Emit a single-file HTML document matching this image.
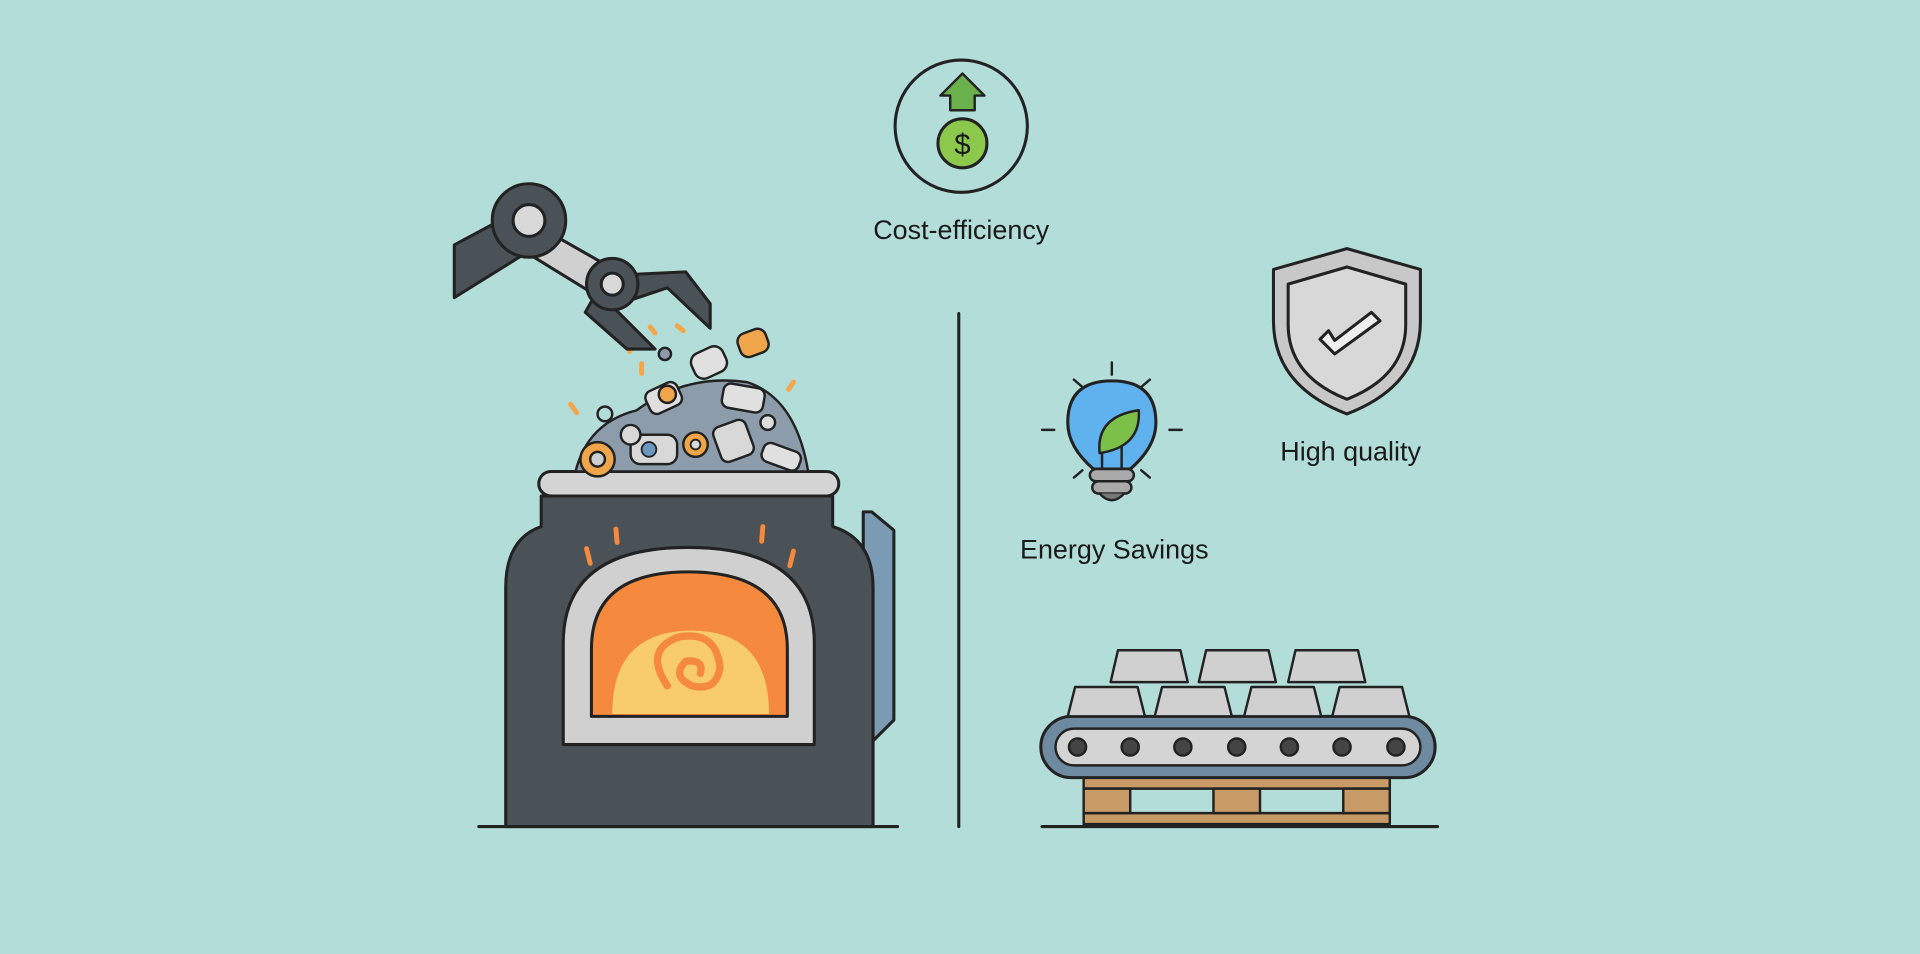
<!DOCTYPE html>
<html><head><meta charset="utf-8"><style>
html,body{margin:0;padding:0;background:#b3ddd8;}
svg{display:block}
text{font-family:"Liberation Sans",sans-serif;fill:#1a1a1a;}
</style></head><body>
<svg width="1920" height="954" viewBox="0 0 1568 779" xmlns="http://www.w3.org/2000/svg">
<rect width="1568" height="779" fill="#b3ddd8"/>
<g stroke="#222" stroke-linecap="round" stroke-linejoin="round">
<!-- cost efficiency -->
<circle cx="785" cy="103" r="54" fill="none" stroke-width="2.5"/>
<path d="M776 90 V78 H768 L786 60 L804 78 H796 V90 Z" fill="#6ab04c" stroke-width="2"/>
<circle cx="786" cy="117" r="20" fill="#8cc84b" stroke-width="2.5"/>
<text x="786" y="126" font-size="24" text-anchor="middle" stroke="none">$</text>
<!-- vertical divider -->
<line x1="783" y1="256" x2="783" y2="675" stroke-width="2.5"/>
<line x1="391" y1="675" x2="733" y2="675" stroke-width="2.5"/>
<line x1="851" y1="675" x2="1174" y2="675" stroke-width="2.5"/>
<!-- handle -->
<path d="M705 418 H712 L730 433 V588 L712 606 H705 Z" fill="#7b9bb4" stroke-width="2.5"/>
<!-- furnace body -->
<path d="M442 405 H680 V430 Q713 440 713 480 V675 H413 V480 Q413 440 442 430 Z" fill="#4a5157" stroke-width="2.5"/>
<rect x="440" y="385" width="245" height="20" rx="10" fill="#d4d4d4" stroke-width="2.5"/>
<path d="M460 608 V525 Q460 447 562 447 Q665 447 665 525 V608 Z" fill="#d0d0d0" stroke-width="2.5"/>
<path d="M483 585 V530 Q483 467 562 467 Q643 467 643 530 V585 Z" fill="#f58a3f" stroke-width="2.5"/>
<path d="M500 583 Q500 515 565 515 Q628 515 628 583 Z" fill="#f8cc6a" stroke="none"/>
<path d="M545 560 Q525 530 555 520 Q585 515 588 545 Q585 565 565 560 Q548 552 560 540 Q575 538 572 550" fill="none" stroke="#f58a3f" stroke-width="6"/>
<g stroke="#f58a3f" stroke-width="4"><line x1="503" y1="432" x2="504" y2="443"/><line x1="479" y1="448" x2="482" y2="460"/><line x1="623" y1="430" x2="622" y2="442"/><line x1="648" y1="450" x2="645" y2="462"/></g>
<!-- scrap pile -->
<path d="M470 385 Q480 345 520 335 Q560 305 610 312 Q650 325 660 385 Z" fill="#8d9cab" stroke-width="2"/>
<circle cx="488" cy="375" r="14" fill="#f0a54a" stroke-width="2"/><circle cx="488" cy="375" r="6" fill="#d0d0d0" stroke-width="2"/>
<rect x="515" y="355" width="38" height="24" rx="8" fill="#d8d8d8" stroke-width="2"/><circle cx="530" cy="367" r="6" fill="#6a98c0" stroke-width="1.5"/>
<circle cx="568" cy="363" r="10" fill="#f0a54a" stroke-width="2"/><circle cx="568" cy="363" r="4" fill="#d8d8d8" stroke-width="1.5"/>
<rect x="585" y="345" width="28" height="30" rx="6" fill="#d8d8d8" stroke-width="2" transform="rotate(-20 599 360)"/>
<rect x="590" y="315" width="34" height="20" rx="6" fill="#e0e0e0" stroke-width="2" transform="rotate(10 607 325)"/>
<rect x="528" y="315" width="28" height="20" rx="6" fill="#e0e0e0" stroke-width="2" transform="rotate(-25 542 325)"/>
<circle cx="545" cy="322" r="7" fill="#f0a54a" stroke-width="2"/>
<circle cx="515" cy="355" r="8" fill="#d8d8d8" stroke-width="2"/>
<rect x="622" y="365" width="32" height="16" rx="6" fill="#e0e0e0" stroke-width="2" transform="rotate(20 638 373)"/>
<circle cx="627" cy="345" r="6" fill="#ddd" stroke-width="2"/>
<circle cx="494" cy="338" r="6" fill="none" stroke-width="2"/>
<circle cx="543" cy="289" r="5" fill="#8d9cab" stroke-width="2"/>
<rect x="565" y="285" width="28" height="22" rx="8" fill="#e0e0e0" stroke-width="2" transform="rotate(-25 579 296)"/>
<rect x="603" y="270" width="24" height="20" rx="7" fill="#f0a54a" stroke-width="2" transform="rotate(-20 615 280)"/>
<g stroke="#f5a64a" stroke-width="4"><line x1="531" y1="267" x2="535" y2="272"/><line x1="553" y1="266" x2="558" y2="270"/><line x1="518" y1="282" x2="514" y2="287"/><line x1="524" y1="297" x2="524" y2="305"/><line x1="466" y1="330" x2="471" y2="337"/><line x1="648" y1="312" x2="644" y2="318"/></g>
<!-- robot arm -->
<path d="M371 200 L412 178 L440 200 L371 243 Z" fill="#4a5157" stroke-width="2.5"/>
<path d="M440 185 L505 222 L493 245 L428 205 Z" fill="#d0d0d0" stroke-width="2.5"/>
<path d="M495 225 L560 222 L580 248 V268 L545 235 L500 250 L535 285 L512 285 L478 255 Z" fill="#4a5157" stroke-width="2.5"/>
<circle cx="432" cy="180" r="30" fill="#4a5157" stroke-width="2.5"/><circle cx="432" cy="180" r="13" fill="#d8d8d8" stroke-width="2.5"/>
<circle cx="500" cy="232" r="21" fill="#4a5157" stroke-width="2.5"/><circle cx="500" cy="232" r="9" fill="#d8d8d8" stroke-width="2.5"/>
<!-- bulb -->
<g stroke-width="2"><line x1="908" y1="296" x2="908" y2="306"/><line x1="877" y1="310" x2="884" y2="316"/><line x1="939" y1="310" x2="932" y2="316"/><line x1="851" y1="351" x2="861" y2="351"/><line x1="955" y1="351" x2="965" y2="351"/><line x1="877" y1="390" x2="884" y2="384"/><line x1="939" y1="390" x2="932" y2="384"/></g>
<path d="M893 383 Q872 365 872 345 Q872 311 908 311 Q944 311 944 345 Q944 365 923 383 Z" fill="#5fb2ee" stroke-width="2.5"/>
<path d="M898 370 Q895 340 930 335 Q932 365 898 370" fill="#7cc04a" stroke-width="2"/>
<line x1="900" y1="370" x2="900" y2="383" stroke-width="2"/><line x1="916" y1="365" x2="916" y2="383" stroke-width="2"/>
<rect x="890" y="383" width="36" height="10" rx="5" fill="#aaa" stroke-width="2"/>
<rect x="892" y="393" width="32" height="10" rx="5" fill="#aaa" stroke-width="2"/>
<path d="M898 403 Q908 414 918 403" fill="#777" stroke-width="2"/>
<!-- shield -->
<path d="M1100 203 L1160 220 V262 Q1160 315 1100 338 Q1040 315 1040 262 V220 Z" fill="#c8c8c8" stroke-width="2.5"/>
<path d="M1100 218 L1148 232 V265 Q1148 307 1100 326 Q1052 307 1052 265 V232 Z" fill="#d8d8d8" stroke-width="2.5"/>
<path d="M1078 277 L1090 289 L1127 262 L1120 255 L1090 278 L1085 270 Z" fill="#eee" stroke-width="2.5"/>
<!-- pallet -->
<g fill="#c79a66" stroke-width="2">
<rect x="885" y="635" width="250" height="9"/>
<rect x="885" y="664" width="250" height="9"/>
<rect x="885" y="644" width="38" height="20"/>
<rect x="991" y="644" width="38" height="20"/>
<rect x="1097" y="644" width="38" height="20"/>
</g>
<rect x="850" y="585" width="322" height="50" rx="25" fill="#6e8aa0" stroke-width="2.5"/>
<rect x="862" y="595" width="298" height="30" rx="15" fill="#d4d4d4" stroke-width="2"/>
<g fill="#444" stroke-width="2"><circle cx="880" cy="610" r="7"/><circle cx="923" cy="610" r="7"/><circle cx="966" cy="610" r="7"/><circle cx="1010" cy="610" r="7"/><circle cx="1053" cy="610" r="7"/><circle cx="1096" cy="610" r="7"/><circle cx="1140" cy="610" r="7"/></g>
<g fill="#d0d0d0" stroke-width="2">
<path d="M913 531 H964 L970 557 H907 Z"/><path d="M985 531 H1036 L1042 557 H979 Z"/><path d="M1058 531 H1109 L1115 557 H1052 Z"/>
<path d="M878 561 H929 L935 585 H872 Z"/><path d="M949 561 H1000 L1006 585 H943 Z"/><path d="M1022 561 H1073 L1079 585 H1016 Z"/><path d="M1094 561 H1145 L1151 585 H1088 Z"/>
</g>
</g>
<text x="785" y="195" font-size="22" text-anchor="middle">Cost-efficiency</text>
<text x="910" y="456" font-size="22" text-anchor="middle">Energy Savings</text>
<text x="1103" y="376" font-size="22" text-anchor="middle">High quality</text>
</svg>
</body></html>
